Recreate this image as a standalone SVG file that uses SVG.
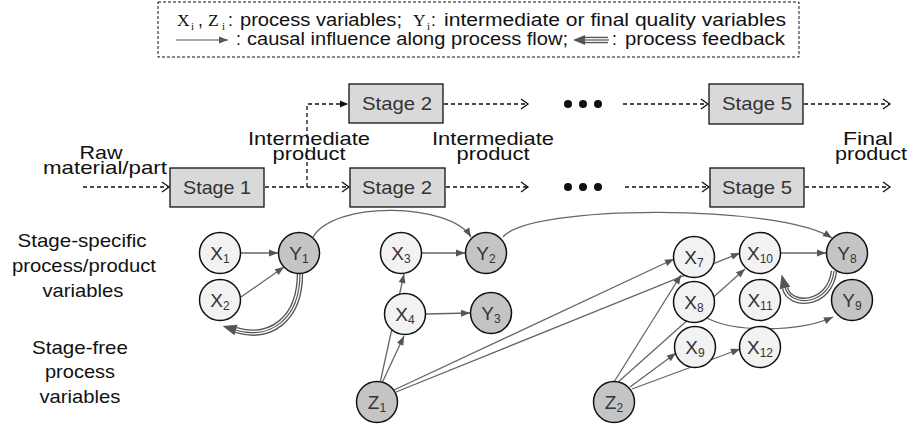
<svg xmlns="http://www.w3.org/2000/svg" width="912" height="425" viewBox="0 0 912 425">
<style>
text{font-family:"Liberation Sans",Arial,sans-serif;fill:#111}
.lbl{font-size:19px}
.lg{font-size:17.5px}
.sf{font-family:"Liberation Serif","Times New Roman",serif}
.stage rect{fill:#d9d9d9;stroke:#111;stroke-width:1.3}
.stage text{font-size:19px;fill:#333}
.flow{fill:none;stroke:#111;stroke-width:1.3;stroke-dasharray:4 3}
.dot{fill:#111}
.nl circle{fill:#f2f2f2;stroke:#111;stroke-width:1.5}
.nd circle{fill:#c4c4c4;stroke:#111;stroke-width:1.5}
.node text{font-size:19px;fill:#333;text-anchor:middle}
.node tspan{font-size:12px}
.c{fill:none;stroke:#666;stroke-width:1.3}
.fb1{fill:none;stroke:#555;stroke-width:6.5}
.fb2{fill:none;stroke:#fff;stroke-width:3.8}
.fb3{fill:none;stroke:#555;stroke-width:1.2}
</style>
<defs>
<marker id="a" markerUnits="userSpaceOnUse" markerWidth="10" markerHeight="8" refX="9" refY="3.5" orient="auto" overflow="visible"><path d="M0,0 L9,3.5 L0,7 z" fill="#555"/></marker>
<marker id="chev" markerUnits="userSpaceOnUse" markerWidth="10" markerHeight="12" refX="7" refY="5" orient="auto" overflow="visible"><path d="M0,0 L7,5 L0,10" fill="none" stroke="#111" stroke-width="1.3"/></marker>
<marker id="tri" markerUnits="userSpaceOnUse" markerWidth="10" markerHeight="8" refX="8" refY="3.5" orient="auto" overflow="visible"><path d="M0,0 L8,3.5 L0,7 z" fill="#111"/></marker>
<marker id="fb" markerUnits="userSpaceOnUse" markerWidth="16" markerHeight="12" refX="0" refY="5.5" orient="auto" overflow="visible"><path d="M0,0 L14,5.5 L0,11 z" fill="#555"/></marker>
<marker id="fbl" markerUnits="userSpaceOnUse" markerWidth="16" markerHeight="12" refX="0" refY="5" orient="auto" overflow="visible"><path d="M0,0 L12,5 L0,10 z" fill="#555"/></marker>
</defs>

<g id="legend">
<rect x="158" y="2" width="641" height="55" fill="#fff" stroke="#111" stroke-width="1" stroke-dasharray="3 2"/>
<text class="lg sf" x="177" y="26">X</text><text class="sf" font-size="11" x="191" y="30">i</text>
<text class="lg" x="198" y="26">,</text>
<text class="lg sf" x="208" y="26">Z</text><text class="sf" font-size="11" x="222" y="30">i</text>
<text class="lg" x="228" y="26">:</text>
<text class="lg" x="240" y="26" textLength="162" lengthAdjust="spacingAndGlyphs">process variables;</text>
<text class="lg sf" x="413" y="26">Y</text><text class="sf" font-size="11" x="427" y="30">i</text>
<text class="lg" x="431" y="26">:</text>
<text class="lg" x="444" y="26" textLength="342" lengthAdjust="spacingAndGlyphs">intermediate or final quality variables</text>
<line x1="176" y1="40" x2="228" y2="40" stroke="#555" stroke-width="1.2" marker-end="url(#a)"/>
<text class="lg" x="236" y="45">:</text>
<text class="lg" x="247" y="45" textLength="321" lengthAdjust="spacingAndGlyphs">causal influence along process flow;</text>
<path class="fb1" d="M608,40 L585,40" stroke-width="5.5" marker-end="url(#fbl)"/>
<path class="fb2" d="M609,40 L585,40" stroke-width="3"/>
<path class="fb3" d="M609,40 L584,40" stroke-width="1"/>
<text class="lg" x="612" y="45">:</text>
<text class="lg" x="625" y="45" textLength="160" lengthAdjust="spacingAndGlyphs">process feedback</text>
</g>

<g id="labels" class="lbl" text-anchor="middle">
<text x="101" y="159" textLength="43" lengthAdjust="spacingAndGlyphs">Raw</text>
<text x="105" y="174" textLength="124" lengthAdjust="spacingAndGlyphs">material/part</text>
<text x="309" y="145" textLength="122" lengthAdjust="spacingAndGlyphs">Intermediate</text>
<text x="309" y="160" textLength="73" lengthAdjust="spacingAndGlyphs">product</text>
<text x="493" y="145" textLength="122" lengthAdjust="spacingAndGlyphs">Intermediate</text>
<text x="493" y="160" textLength="73" lengthAdjust="spacingAndGlyphs">product</text>
<text x="868" y="145" textLength="50" lengthAdjust="spacingAndGlyphs">Final</text>
<text x="871" y="160" textLength="72" lengthAdjust="spacingAndGlyphs">product</text>
<text x="82" y="247" textLength="129" lengthAdjust="spacingAndGlyphs">Stage-specific</text>
<text x="84" y="272" textLength="144" lengthAdjust="spacingAndGlyphs">process/product</text>
<text x="83" y="297" textLength="81" lengthAdjust="spacingAndGlyphs">variables</text>
<text x="80" y="354" textLength="96" lengthAdjust="spacingAndGlyphs">Stage-free</text>
<text x="80" y="378" textLength="70" lengthAdjust="spacingAndGlyphs">process</text>
<text x="80" y="403" textLength="81" lengthAdjust="spacingAndGlyphs">variables</text>
</g>

<g id="flow">
<path class="flow" d="M83,187 L169,187" marker-end="url(#chev)"/>
<path class="flow" d="M265,187 L349,187" marker-end="url(#chev)"/>
<path class="flow" d="M307,187 L307,104 L348,104" marker-end="url(#tri)"/>
<path class="flow" d="M444,104 L528,104" marker-end="url(#chev)"/>
<path class="flow" d="M623,104 L708,104" marker-end="url(#chev)"/>
<path class="flow" d="M804,104 L890,104" marker-end="url(#chev)"/>
<path class="flow" d="M446,187 L528,187" marker-end="url(#chev)"/>
<path class="flow" d="M625,187 L709,187" marker-end="url(#chev)"/>
<path class="flow" d="M805,187 L890,187" marker-end="url(#chev)"/>
<circle class="dot" cx="568" cy="104" r="4"/><circle class="dot" cx="583" cy="104" r="4"/><circle class="dot" cx="598" cy="104" r="4"/>
<circle class="dot" cx="568" cy="187" r="4"/><circle class="dot" cx="583" cy="187" r="4"/><circle class="dot" cx="598" cy="187" r="4"/>
</g>

<g id="stage1" class="stage"><rect x="170" y="168" width="94" height="39"/><text x="217" y="194" text-anchor="middle" textLength="68" lengthAdjust="spacingAndGlyphs">Stage 1</text></g>
<g id="stage2a" class="stage"><rect x="349" y="84" width="94" height="39"/><text x="397" y="110" text-anchor="middle" textLength="70" lengthAdjust="spacingAndGlyphs">Stage 2</text></g>
<g id="stage2b" class="stage"><rect x="350" y="168" width="95" height="39"/><text x="397" y="194" text-anchor="middle" textLength="70" lengthAdjust="spacingAndGlyphs">Stage 2</text></g>
<g id="stage5a" class="stage"><rect x="709" y="84" width="94" height="40"/><text x="757" y="110" text-anchor="middle" textLength="70" lengthAdjust="spacingAndGlyphs">Stage 5</text></g>
<g id="stage5b" class="stage"><rect x="710" y="168" width="94" height="39"/><text x="757" y="194" text-anchor="middle" textLength="70" lengthAdjust="spacingAndGlyphs">Stage 5</text></g>

<g id="connectors">
<path class="c" d="M241,253 L278,253" marker-end="url(#a)"/>
<path class="c" d="M241,297 L284,267" marker-end="url(#a)"/>
<path class="c" d="M313,237 C335,200 450,203 471,237" marker-end="url(#a)"/>
<path class="c" d="M421,253 L465,253" marker-end="url(#a)"/>
<path class="c" d="M426,314 L470,313" marker-end="url(#a)"/>
<path class="c" d="M380,383 L404,274" marker-end="url(#a)"/>
<path class="c" d="M382,383 L404,336" marker-end="url(#a)"/>
<path class="c" d="M394,390 L674,259" marker-end="url(#a)"/>
<path class="c" d="M396,392 L740,253" marker-end="url(#a)"/>
<path class="c" d="M503,237 C530,204 780,204 832,238" marker-end="url(#a)"/>
<path class="c" d="M614,382 L681,275" marker-end="url(#a)"/>
<path class="c" d="M617,383 L745,269" marker-end="url(#a)"/>
<path class="c" d="M630,387 L676,353" marker-end="url(#a)"/>
<path class="c" d="M632,389 L740,349" marker-end="url(#a)"/>
<path class="c" d="M780,253 L826,253" marker-end="url(#a)"/>
<path class="c" d="M707,318 C735,333 800,332 833,317" marker-end="url(#a)"/>
<path class="fb1" d="M300,273 C300,320 270,340 236,330" marker-end="url(#fb)"/>
<path class="fb2" d="M300,273 C300,320 270,340 236,330"/>
<path class="fb3" d="M300,273 C300,320 270,340 235,330"/>
<path class="fb1" d="M834,271 C830,306 790,308 785,288" marker-end="url(#fb)"/>
<path class="fb2" d="M834,271 C830,306 790,308 785,288"/>
<path class="fb3" d="M834,271 C830,306 790,308 785,287"/>
</g>

<g id="X1" class="node nl"><circle cx="220" cy="253" r="20.5"/><text x="220" y="260">X<tspan dy="3">1</tspan></text></g>
<g id="X2" class="node nl"><circle cx="220" cy="300" r="20.5"/><text x="220" y="307">X<tspan dy="3">2</tspan></text></g>
<g id="Y1" class="node nd"><circle cx="299" cy="253" r="20.5"/><text x="299" y="260">Y<tspan dy="3">1</tspan></text></g>
<g id="X3" class="node nl"><circle cx="401" cy="253" r="20.5"/><text x="401" y="260">X<tspan dy="3">3</tspan></text></g>
<g id="Y2" class="node nd"><circle cx="486" cy="253" r="20.5"/><text x="486" y="260">Y<tspan dy="3">2</tspan></text></g>
<g id="X4" class="node nl"><circle cx="405" cy="314" r="20.5"/><text x="405" y="321">X<tspan dy="3">4</tspan></text></g>
<g id="Y3" class="node nd"><circle cx="491" cy="313" r="20.5"/><text x="491" y="320">Y<tspan dy="3">3</tspan></text></g>
<g id="Z1" class="node nd"><circle cx="377" cy="402" r="20.5"/><text x="377" y="409">Z<tspan dy="3">1</tspan></text></g>
<g id="X7" class="node nl"><circle cx="694" cy="257" r="20.5"/><text x="694" y="264">X<tspan dy="3">7</tspan></text></g>
<g id="X8" class="node nl"><circle cx="694" cy="302" r="20.5"/><text x="694" y="309">X<tspan dy="3">8</tspan></text></g>
<g id="X9" class="node nl"><circle cx="695" cy="347" r="20.5"/><text x="695" y="354">X<tspan dy="3">9</tspan></text></g>
<g id="X10" class="node nl"><circle cx="760" cy="253" r="20.5"/><text x="760" y="260">X<tspan dy="3">10</tspan></text></g>
<g id="X11" class="node nl"><circle cx="760" cy="300" r="20.5"/><text x="760" y="307">X<tspan dy="3">11</tspan></text></g>
<g id="X12" class="node nl"><circle cx="760" cy="347" r="20.5"/><text x="760" y="354">X<tspan dy="3">12</tspan></text></g>
<g id="Y8" class="node nd"><circle cx="847" cy="253" r="20.5"/><text x="847" y="260">Y<tspan dy="3">8</tspan></text></g>
<g id="Y9" class="node nd"><circle cx="852" cy="300" r="20.5"/><text x="852" y="307">Y<tspan dy="3">9</tspan></text></g>
<g id="Z2" class="node nd"><circle cx="614" cy="402" r="20.5"/><text x="614" y="409">Z<tspan dy="3">2</tspan></text></g>
</svg>
